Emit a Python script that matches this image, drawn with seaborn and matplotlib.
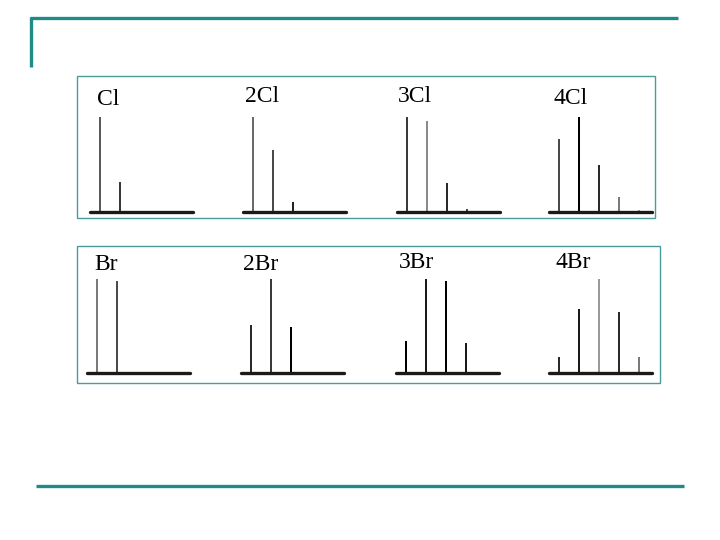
import matplotlib
matplotlib.use("Agg")
import matplotlib.pyplot as plt
import seaborn as sns
from matplotlib.patches import Rectangle
from matplotlib.lines import Line2D

# isotope patterns (relative intensity, tallest = 100)
cl_labels = ["Cl", "2Cl", "3Cl", "4Cl"]
cl_peaks = [[100, 32], [100, 65, 11], [100, 96, 31, 3], [77, 100, 49, 16, 2]]
br_labels = ["Br", "2Br", "3Br", "4Br"]
br_peaks = [[100, 98], [51, 100, 49], [34, 100, 98, 32], [17, 68, 100, 65, 17]]

# stem colours (just look, not data)
cl_colors = [["#5a5a5a", "#383838"],
             ["#6a6a6a", "#4a4a4a", "#222222"],
             ["#3a3a3a", "#8a8a8a", "#2a2a2a", "#444444"],
             ["#4a4a4a", "#000000", "#2a2a2a", "#7a7a7a", "#a0a0a0"]]
br_colors = [["#7a7a7a", "#4a4a4a"],
             ["#2a2a2a", "#3a3a3a", "#000000"],
             ["#000000", "#1a1a1a", "#000000", "#1a1a1a"],
             ["#2a2a2a", "#1a1a1a", "#9a9a9a", "#2a2a2a", "#7a7a7a"]]

sns.set_theme(style="white")
plt.rcParams['font.family'] = ['Liberation Serif', 'DejaVu Serif']

W, H = 720, 540
fig = plt.figure(figsize=(7.2, 5.4), dpi=100)
teal = "#1f8a87"


def px_rect(left, top, width, height):
    return [left / W, 1 - (top + height) / H, width / W, height / H]


def fig_line(x0, y0, x1, y1, **kw):
    fig.add_artist(Line2D([x0 / W, x1 / W], [1 - y0 / H, 1 - y1 / H],
                          transform=fig.transFigure, **kw))


# slide decoration
fig_line(30, 18, 678, 18, color=teal, lw=2.4, solid_capstyle="butt")
fig_line(31, 17, 31, 67, color=teal, lw=2.4, solid_capstyle="butt")
fig_line(36, 486, 684, 486, color=teal, lw=2.4, solid_capstyle="butt")

# frames round the two rows
for (l, t, r, b) in [(77, 76, 655, 218), (77, 246, 660, 383)]:
    fig.add_artist(Rectangle((l / W, 1 - b / H), (r - l) / W, (b - t) / H,
                             transform=fig.transFigure, fill=False,
                             edgecolor="#4a9c9c", lw=1.0))


def spectrum(left, base, top, label, lab_x, lab_y, vals, cols):
    ax = fig.add_axes(px_rect(left, top, 103, base - top))
    n = len(vals)
    xs = [str(i) for i in range(n)]
    sns.barplot(x=xs, y=vals, hue=xs, palette=cols, width=0.14,
                linewidth=0, legend=False, ax=ax)
    ax.set_xlim(-0.5, 4.65)
    ax.set_ylim(0, 100)
    ax.axhline(0, color="#1a1a1a", lw=2.4, clip_on=False)
    ax.axis("off")
    fig.text(lab_x / W, 1 - lab_y / H, label, fontsize=17, color="black",
             va="center", ha="left")


cl_left = [90, 243, 397, 549]
cl_lab = [(97, 100), (245, 97), (398, 96), (554, 98)]
for i in range(4):
    spectrum(cl_left[i], 212, 117, cl_labels[i], cl_lab[i][0], cl_lab[i][1],
             cl_peaks[i], cl_colors[i])

br_left = [87, 241, 396, 549]
br_lab = [(94, 264), (243, 265), (399, 263), (556, 262)]
for i in range(4):
    spectrum(br_left[i], 373, 279, br_labels[i], br_lab[i][0], br_lab[i][1],
             br_peaks[i], br_colors[i])

fig.savefig("out.png", dpi=100)
